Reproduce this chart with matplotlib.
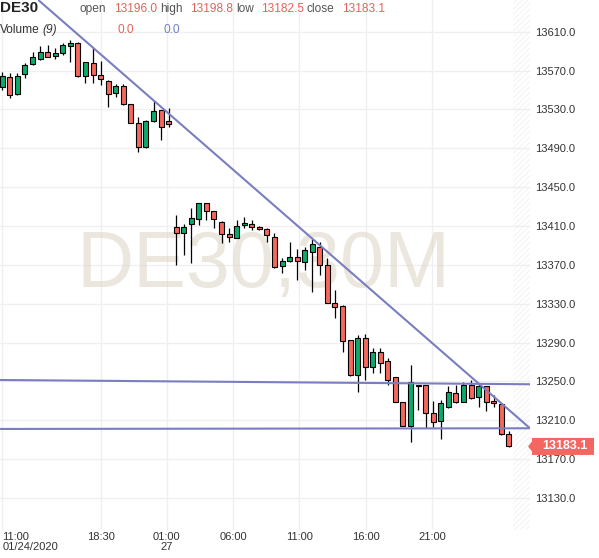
import matplotlib
matplotlib.use("Agg")
import matplotlib.pyplot as plt
from matplotlib.patches import Polygon
from matplotlib import font_manager
import numpy as np

# ---------------- data ----------------
opens = [13552.8, 13563.1, 13545.9, 13566.5, 13576.4, 13581.9, 13589.4, 13585.0, 13587.8, 13595.3,
         13598.7, 13564.7, 13577.5, 13565.4, 13559.6, 13546.6, 13554.1, 13535.3, 13515.7, 13491.0,
         13518.1, 13529.4, 13518.1, 13409.3, 13402.5, 13411.8, 13417.2, 13433.4, 13425.4, 13414.4,
         13401.5, 13398.0, 13411.0, 13411.8, 13408.7, 13406.9, 13399.0, 13368.8, 13374.0, 13377.8,
         13373.3, 13382.9, 13388.7, 13369.9, 13330.4, 13327.7, 13292.7, 13256.6, 13294.4, 13264.6,
         13280.6, 13271.4, 13254.3, 13228.5, 13204.5, 13246.3, 13246.3, 13217.2, 13209.6, 13224.0,
         13237.8, 13229.2, 13246.3, 13233.7, 13245.3, 13229.9, 13226.8, 13196.0]
highs = [13568.8, 13567.2, 13567.2, 13577.5, 13589.4, 13595.3, 13596.3, 13592.9, 13598.1, 13601.5,
         13599.7, 13579.1, 13592.9, 13580.2, 13560.5, 13555.9, 13555.9, 13535.8, 13521.9, 13519.0,
         13539.0, 13529.8, 13531.2, 13421.3, 13411.8, 13428.8, 13433.8, 13433.8, 13425.8, 13414.8,
         13407.6, 13416.2, 13419.6, 13416.2, 13409.5, 13408.2, 13402.5, 13376.8, 13393.8, 13386.0,
         13388.1, 13396.3, 13393.8, 13376.8, 13344.1, 13328.2, 13293.0, 13297.8, 13298.8, 13284.1,
         13284.1, 13273.8, 13254.8, 13229.0, 13266.9, 13246.5, 13246.5, 13230.2, 13230.9, 13245.3,
         13246.3, 13249.7, 13251.5, 13248.1, 13245.8, 13236.0, 13227.2, 13198.8]
lows = [13550.0, 13541.4, 13544.5, 13562.0, 13575.7, 13580.9, 13583.5, 13581.6, 13586.5, 13579.1,
        13563.1, 13556.9, 13556.9, 13555.0, 13532.8, 13543.1, 13534.6, 13515.8, 13486.5, 13490.5,
        13517.4, 13498.5, 13512.2, 13369.9, 13380.2, 13371.6, 13411.0, 13416.2, 13407.6, 13392.2,
        13393.8, 13397.5, 13407.6, 13405.9, 13405.5, 13393.8, 13366.5, 13361.3, 13372.6, 13354.4,
        13364.7, 13342.4, 13359.6, 13330.5, 13315.0, 13280.6, 13256.0, 13239.5, 13251.5, 13258.4,
        13259.0, 13246.3, 13228.5, 13204.0, 13188.0, 13220.6, 13201.8, 13202.8, 13190.5, 13222.3,
        13227.5, 13228.7, 13231.6, 13224.0, 13219.9, 13223.4, 13194.8, 13182.5]
closes = [13564.7, 13544.8, 13564.7, 13575.7, 13583.6, 13589.4, 13584.3, 13587.8, 13596.3, 13598.7,
          13564.7, 13578.5, 13565.1, 13561.0, 13545.9, 13554.4, 13535.3, 13516.3, 13491.0, 13518.4,
          13528.7, 13512.2, 13514.7, 13402.5, 13409.3, 13418.6, 13433.4, 13425.4, 13416.9, 13401.5,
          13399.0, 13410.3, 13412.8, 13408.7, 13406.6, 13400.7, 13367.5, 13374.3, 13377.8, 13374.3,
          13385.3, 13391.5, 13369.9, 13331.1, 13326.9, 13291.9, 13256.6, 13294.4, 13264.6, 13280.6,
          13269.3, 13251.5, 13229.2, 13204.5, 13249.1, 13245.8, 13217.2, 13208.0, 13227.5, 13238.8,
          13229.2, 13246.3, 13232.7, 13245.3, 13229.2, 13227.5, 13195.9, 13183.1]

tick_labels = ["11:00\n01/24/2020", "18:30", "01:00\n27", "06:00", "11:00", "16:00", "21:00"]
tick_pos = [0.0, 13.0, 21.75, 30.55, 39.25, 48.05, 56.85]
price_ticks = [13130, 13170, 13210, 13250, 13290, 13330, 13370, 13410, 13450, 13490, 13530, 13570, 13610]

# drawn trend lines (candle index, price)
diag_x = [4.76, 69.8]
diag_y = [13642.6, 13201.8]
upper_x = [-0.3, 69.8]
upper_y = [13251.5, 13247.1]
lower_x = [-0.3, 69.8]
lower_y = [13201.1, 13201.8]

hdr_open, hdr_high, hdr_low, hdr_close = 13196.0, 13198.8, 13182.5, 13183.1

# ---------------- style ----------------
W, H = 599, 558
GREEN = "#0bab6c"
RED = "#f6675c"
LINE = "#7a7ec0"
TXT_RED = "#e2635c"
TXT_BLUE = "#6f80c6"
FONT = "Liberation Sans"
names = {f.name for f in font_manager.fontManager.ttflist}
NARROW = "Liberation Sans Narrow" if "Liberation Sans Narrow" in names else FONT

plt.rcParams["font.family"] = [FONT, "DejaVu Sans"]
plt.rcParams["hatch.linewidth"] = 0.5
plt.rcParams["hatch.color"] = "#eeeeee"

fig = plt.figure(figsize=(W / 100, H / 100), dpi=100)
ax = fig.add_axes([0, 28 / H, 530 / W, 530 / H])

n = len(opens)
x = np.arange(n)
o = np.array(opens); c = np.array(closes); h = np.array(highs); l = np.array(lows)
up = c >= o

ax.set_xlim(-0.304, 69.8)
ax.set_ylim(13097.1, 13642.6)

# grid
ax.set_axisbelow(True)
ax.grid(True, color="#efefef", lw=0.9)
for s in ax.spines.values():
    s.set_visible(False)

# watermark
ax.text(0.498, 0.459, "DE30,30M", transform=ax.transAxes, ha="center", va="baseline",
        fontsize=57, color="#dcd2c0", alpha=0.52, zorder=0.6, family=FONT)

# hatched future area
ax.axvspan(67.55, 69.8, facecolor="none", hatch="//////", edgecolor="#eeeeee", lw=0, zorder=0.7)

# candles
ax.vlines(x, l, h, color="black", lw=0.9, zorder=2)
body_bottom = np.minimum(o, c)
body_h = np.maximum(np.abs(c - o), 0.6)
colors = [GREEN if u else RED for u in up]
ax.bar(x, body_h, bottom=body_bottom, width=0.66, color=colors, edgecolor="black", lw=0.8, zorder=3)

# trend lines
for xs, ys in ((diag_x, diag_y), (upper_x, upper_y), (lower_x, lower_y)):
    ax.plot(xs, ys, color=LINE, lw=1.5, zorder=4, solid_capstyle="butt")

# axes ticks
ax.yaxis.tick_right()
ax.set_yticks(price_ticks)
ax.set_yticklabels([f"{p:.1f}" for p in price_ticks])
ax.tick_params(axis="y", length=0, pad=4.0, labelsize=8, labelcolor="#333333")
ax.set_xticks(tick_pos)
ax.set_xticklabels(tick_labels)
ax.tick_params(axis="x", length=0, pad=1.5, labelsize=8.0, labelcolor="#333333")
for lab in ax.get_xticklabels():
    lab.set_family([NARROW, "DejaVu Sans"])
    lab.set_linespacing(1.0)
ax.get_xticklabels()[0].set_ha("left")

# last price label
y_disp = ax.transData.transform((0, hdr_close))[1]
yc = H - y_disp
pts = [(528, yc), (532, yc - 5), (532, yc - 8.5), (594, yc - 8.5), (594, yc + 8.5), (532, yc + 8.5), (532, yc + 5)]
poly = Polygon([(px / W, 1 - py / H) for px, py in pts], closed=True, transform=fig.transFigure,
               facecolor="#f4665f", edgecolor="none", zorder=10)
fig.patches.append(poly)
fig.text(565 / W, 1 - yc / H, f"{hdr_close:.1f}", ha="center", va="center", color="white",
         fontsize=9, weight="bold", zorder=11)

# header
def ftxt(px, py, s, **kw):
    fig.text(px / W, 1 - py / H, s, va="center", ha="left", **kw)

ftxt(0, 8.5, "DE30", fontsize=11, weight="bold", color="#222222")
ftxt(79, 9, "open", fontsize=8.6, color="#555555")
ftxt(114, 8.5, f"{hdr_open:.1f}", fontsize=8.6, color=TXT_RED)
ftxt(160, 9, "high", fontsize=8.6, color="#555555")
ftxt(190, 8.5, f"{hdr_high:.1f}", fontsize=8.6, color=TXT_RED)
ftxt(236, 9, "low", fontsize=8.6, color="#555555")
ftxt(261, 8.5, f"{hdr_low:.1f}", fontsize=8.6, color=TXT_RED)
ftxt(307, 9, "close", fontsize=8.6, color="#555555")
ftxt(342, 8.5, f"{hdr_close:.1f}", fontsize=8.6, color=TXT_RED)
ftxt(0, 30, "Volume", fontsize=8.6, color="#333333")
ftxt(42, 30, "(9)", fontsize=8.6, color="#333333", style="italic")
ftxt(118, 30, "0.0", fontsize=8.6, color=TXT_RED)
ftxt(163, 30, "0.0", fontsize=8.6, color=TXT_BLUE)

fig.savefig("out.png", dpi=100)
